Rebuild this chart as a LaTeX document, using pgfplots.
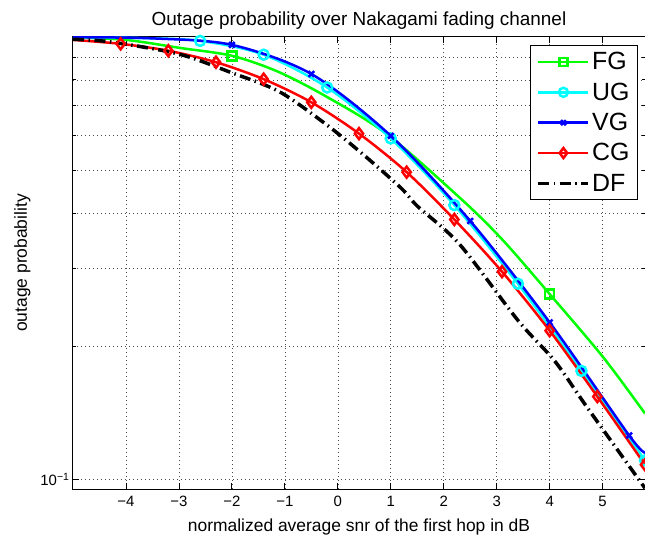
\documentclass[border=0pt]{standalone}
\usepackage{fontspec}
\setmainfont{Liberation Sans}
\usepackage{pgfplots}
\pgfplotsset{compat=1.18}

\definecolor{mgreen}{rgb}{0,1,0}
\definecolor{mcyan}{rgb}{0,1,1}
\definecolor{mblue}{rgb}{0,0,1}
\definecolor{mred}{rgb}{1,0,0}

\begin{document}
\begin{tikzpicture}
\begin{axis}[
    scale only axis,
    width=572bp, height=452bp,
    ymode=log,
    xmin=-5, xmax=5.8, ymin=0.0952, ymax=1,
    xtick={-4,-3,-2,-1,0,1,2,3,4,5},
    xticklabels={−4,−3,−2,−1,0,1,2,3,4,5},
    ytick={0.1}, yticklabels={10\textsuperscript{−1}},
    minor ytick={0.2,0.3,0.4,0.5,0.6,0.7,0.8,0.9},
    grid=both,
    major grid style={black!70, line width=0.6bp, dash pattern=on 0.8bp off 3.2bp},
    minor grid style={black!70, line width=0.6bp, dash pattern=on 0.8bp off 3.2bp},
    tick align=inside,
    major tick length=6bp, minor tick length=3bp,
    every tick/.style={black, line width=0.8bp},
    axis line style={line width=1bp},
    tick label style={font=\fontsize{15}{18}\selectfont},
    xticklabel style={yshift=-4bp},
    title={Outage probability over Nakagami fading channel},
    title style={font=\fontsize{19}{22}\selectfont, yshift=-2bp},
    xlabel={normalized average snr of the first hop in dB},
    ylabel={outage probability},
    label style={font=\fontsize{17.5}{20}\selectfont},
    xlabel style={yshift=-5bp},
    ylabel style={yshift=3bp},
    legend style={at={(1,1)}, anchor=north east, xshift=-7bp, yshift=-8bp,
        font=\fontsize{25}{28}\selectfont, draw=black, line width=1bp,
        row sep=7.5bp, inner xsep=6bp, inner ysep=5bp, cells={anchor=west}},
    legend image code/.code={\draw[mark repeat=2,mark phase=2,#1] plot coordinates {(0bp,0bp)(25bp,0bp)(50bp,0bp)};},
]
% FG
\addplot[mgreen, line width=2.5bp, smooth, mark=square, mark size=4.5bp,
    mark options={solid}, mark indices={4,10}, forget plot] coordinates {
(-5,0.998) (-4,0.985) (-2.96,0.944) (-2,0.907) (-1.14,0.836) (-0.23,0.735)
(0.93,0.603) (2.37,0.426) (3.13,0.346) (4,0.2625) (5.01,0.189) (5.8,0.141)};
% UG
\addplot[mcyan, line width=2.5bp, smooth, mark=o, mark size=5bp,
    mark options={solid}, mark indices={3,4,5,6,7,8,9,10}, forget plot] coordinates {
(-5,0.999) (-3.8,0.995) (-2.6,0.980) (-1.4,0.912) (-0.2,0.769) (1.0,0.590)
(2.2,0.417) (3.4,0.277) (4.6,0.176) (5.8,0.1105)};
% VG
\addplot[mblue, line width=2.5bp, smooth, mark=x, mark size=4bp,
    mark options={solid}, mark indices={3,4,5,6,7,8}, forget plot] coordinates {
(-5,0.999) (-3.5,0.993) (-2,0.960) (-0.5,0.825) (1,0.598) (2.5,0.384)
(4,0.2265) (5.5,0.1258) (5.8,0.115)};
% CG
\addplot[mred, line width=2.5bp, smooth, mark=diamond, mark size=5.5bp,
    mark options={solid}, mark indices={2,3,4,5,6,7,8,9,10,11,12,13}, forget plot] coordinates {
(-5,0.985) (-4.1,0.965) (-3.2,0.931) (-2.3,0.877) (-1.4,0.803) (-0.5,0.712)
(0.4,0.605) (1.3,0.495) (2.2,0.387) (3.1,0.295) (4.0,0.217) (4.9,0.154) (5.8,0.108)};
% DF
\addplot[black, line width=3.5bp, smooth, dash pattern=on 11bp off 4.5bp on 1.5bp off 4.5bp,
    forget plot] coordinates {
(-5,0.988) (-4.3,0.975) (-3,0.915) (-2,0.83) (-1.1,0.752) (-0.2,0.632) (0.5,0.54)
(1.2,0.455) (1.5,0.415) (2.3,0.34) (3.4,0.229) (4.1,0.185) (4.7,0.146) (5.8,0.0956)};

\addlegendimage{mgreen, line width=2.5bp, mark=square, mark size=4bp, mark options={solid}}
\addlegendentry{FG}
\addlegendimage{mcyan, line width=2.5bp, mark=o, mark size=4.5bp, mark options={solid}}
\addlegendentry{UG}
\addlegendimage{mblue, line width=2.5bp, mark=x, mark size=3.5bp, mark options={solid}}
\addlegendentry{VG}
\addlegendimage{mred, line width=2.5bp, mark=diamond, mark size=5bp, mark options={solid}}
\addlegendentry{CG}
\addlegendimage{black, line width=3.5bp, dash pattern=on 11bp off 4.5bp on 1.5bp off 4.5bp}
\addlegendentry{DF}
\end{axis}
\pgfresetboundingbox
\path[use as bounding box] ([xshift=-73bp,yshift=-46.3bp]current axis.south west)
    rectangle ([yshift=37bp]current axis.north east);
\end{tikzpicture}
\end{document}
